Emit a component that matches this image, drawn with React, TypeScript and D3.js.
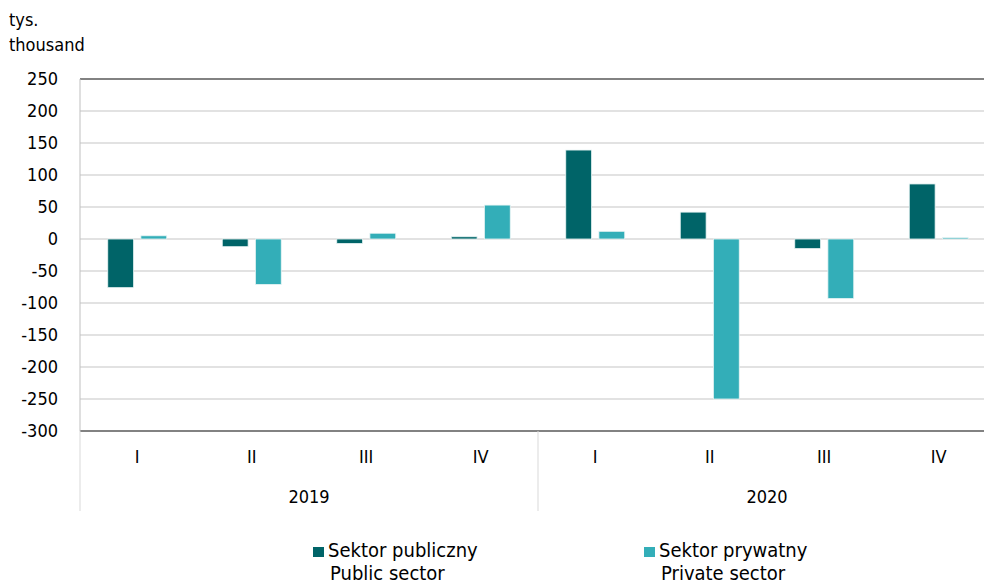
import * as d3 from 'd3'
import { useEffect, useRef } from 'react'

// quarters and years on the category axis
const quarters = ['I', 'II', 'III', 'IV', 'I', 'II', 'III', 'IV']
const years = ['2019', '2020']
// values in thousands
const publicSector = [-76, -12, -7, 3.5, 139, 42, -15, 86]
const privateSector = [5, -71, 9, 53, 12, -250, -93, 2]
const yTicks = [250, 200, 150, 100, 50, 0, -50, -100, -150, -200, -250, -300]

const seriesNames = [
  ['Sektor publiczny', 'Public sector'],
  ['Sektor prywatny', 'Private sector'],
]
const colors = ['#006468', '#33aeb8']

const App = () => {
  const svgRef = useRef<SVGSVGElement>(null)

  useEffect(() => {
    const width = 984
    const height = 587
    const left = 80
    const right = 996 // plot runs past the window edge in the original
    const top = 79
    const bottom = 431
    const font = '"DejaVu Sans Condensed", "Liberation Sans Narrow", "Open Sans", sans-serif'
    const fs = '18px'

    const svg = d3.select(svgRef.current)
    svg.selectAll('*').remove()
    svg.attr('width', width).attr('height', height)

    const idx = quarters.map((_, i) => String(i))
    const x = d3.scaleBand().domain(idx).range([left, right]).paddingInner(0.485).paddingOuter(0.2425)
    const inner = d3.scaleBand().domain(['0', '1']).range([0, x.bandwidth()]).paddingInner(0.22)
    const y = d3.scaleLinear().domain([-300, 250]).range([bottom, top])

    // gridlines
    svg
      .selectAll('line.grid')
      .data(yTicks)
      .enter()
      .append('line')
      .attr('x1', left)
      .attr('x2', right)
      .attr('y1', (d) => y(d))
      .attr('y2', (d) => y(d))
      .attr('stroke', (d) => (d === 250 || d === -300 ? '#595959' : '#d9d9d9'))
      .attr('stroke-width', 1.5)

    svg
      .append('line')
      .attr('x1', left)
      .attr('x2', left)
      .attr('y1', top)
      .attr('y2', bottom)
      .attr('stroke', '#bfbfbf')

    // y labels
    svg
      .selectAll('text.ytick')
      .data(yTicks)
      .enter()
      .append('text')
      .attr('x', 58)
      .attr('y', (d) => y(d))
      .attr('dy', '0.35em')
      .attr('text-anchor', 'end')
      .style('font-family', font)
      .style('font-size', fs)
      .attr('fill', '#000')
      .text((d) => d)

    // bars
    const series = [publicSector, privateSector]
    series.forEach((vals, s) => {
      svg
        .selectAll('rect.s' + s)
        .data(vals)
        .enter()
        .append('rect')
        .attr('x', (_, i) => (x(String(i)) as number) + (inner(String(s)) as number))
        .attr('width', inner.bandwidth())
        .attr('y', (d) => y(Math.max(0, d)))
        .attr('height', (d) => Math.abs(y(d) - y(0)))
        .attr('fill', colors[s])
        .attr('stroke', '#e8f4f4')
        .attr('stroke-width', 0.8)
    })

    // category labels
    const step = (right - left) / quarters.length
    svg
      .selectAll('text.q')
      .data(quarters)
      .enter()
      .append('text')
      .attr('x', (_, i) => left + step * (i + 0.5))
      .attr('y', 463)
      .attr('text-anchor', 'middle')
      .style('font-family', font)
      .style('font-size', fs)
      .text((d) => d)

    const yearW = (right - left) / years.length
    svg
      .selectAll('text.yr')
      .data(years)
      .enter()
      .append('text')
      .attr('x', (_, i) => left + yearW * (i + 0.5))
      .attr('y', 503)
      .attr('text-anchor', 'middle')
      .style('font-family', font)
      .style('font-size', fs)
      .text((d) => d)

    svg
      .selectAll('line.sep')
      .data([0, 1, 2])
      .enter()
      .append('line')
      .attr('x1', (d) => left + yearW * d)
      .attr('x2', (d) => left + yearW * d)
      .attr('y1', bottom)
      .attr('y2', 511)
      .attr('stroke', '#d9d9d9')

    // unit label
    svg
      .append('text')
      .attr('x', 9)
      .attr('y', 26)
      .style('font-family', font)
      .style('font-size', fs)
      .text('tys.')
    svg
      .append('text')
      .attr('x', 9)
      .attr('y', 51)
      .style('font-family', font)
      .style('font-size', fs)
      .text('thousand')

    // legend
    const legendX = [313, 644]
    seriesNames.forEach((names, s) => {
      const g = svg.append('g').attr('transform', `translate(${legendX[s]},0)`)
      g.append('rect').attr('x', 0).attr('y', 547).attr('width', 11).attr('height', 10).attr('fill', colors[s])
      g.append('text')
        .attr('x', 15)
        .attr('y', 557)
        .style('font-family', font)
        .style('font-size', '20px')
        .text(names[0])
      g.append('text')
        .attr('x', 17)
        .attr('y', 580)
        .style('font-family', font)
        .style('font-size', '20px')
        .text(names[1])
    })
  }, [])

  return (
    <div style={{ position: 'absolute', left: 0, top: 0 }}>
      <svg ref={svgRef} style={{ display: 'block' }}></svg>
    </div>
  )
}

export default App
